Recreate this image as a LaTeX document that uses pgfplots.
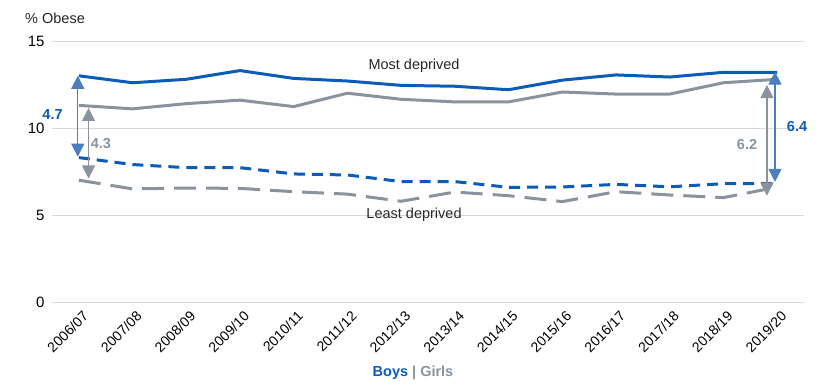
\documentclass[border=0pt]{standalone}
\usepackage{fontspec}
\setmainfont{Liberation Sans}
\usepackage{graphicx}
\usepackage{pgfplots}
\pgfplotsset{compat=1.18}
\usetikzlibrary{arrows.meta}
\definecolor{boys}{HTML}{0A5CB8}
\definecolor{girls}{HTML}{8A939D}
\definecolor{boysarrow}{HTML}{4A7EBF}
\definecolor{gridc}{HTML}{D9D9D9}
\begin{document}
\begin{tikzpicture}[font=\fontsize{14.5}{17}\selectfont]
\useasboundingbox (0,0) rectangle (827pt,384pt);
\begin{axis}[
  at={(52pt,82pt)}, anchor=south west, scale only axis,
  width=752pt, height=261pt,
  xmin=-0.5, xmax=13.5, ymin=0, ymax=15,
  axis line style={draw=none},
  major tick length=0pt,
  ymajorgrids, grid style={gridc, line width=1pt},
  ytick={0,5,10,15},
  xtick={0,...,13},
  xticklabels={2006/07,2007/08,2008/09,2009/10,2010/11,2011/12,2012/13,2013/14,2014/15,2015/16,2016/17,2017/18,2018/19,2019/20},
  x tick label style={yshift=-8pt, xshift=3pt, rotate=45, anchor=north east, font=\fontsize{14}{16}\selectfont, inner sep=0pt},
  y tick label style={font=\fontsize{15}{17}\selectfont, xshift=-4pt},
  /pgf/number format/assume math mode=true,
  clip=false,
]
% Boys most deprived
\addplot[boys, line width=3pt, line join=round] coordinates {
(0,13.0) (1,12.6) (2,12.8) (3,13.3) (4,12.85) (5,12.7) (6,12.45) (7,12.4) (8,12.2) (9,12.75) (10,13.05) (11,12.93) (12,13.2) (13,13.2)};
% Girls most deprived
\addplot[girls, line width=3pt, line join=round] coordinates {
(0,11.3) (1,11.1) (2,11.4) (3,11.6) (4,11.23) (5,12.0) (6,11.65) (7,11.5) (8,11.5) (9,12.07) (10,11.95) (11,11.95) (12,12.6) (13,12.8)};
% Boys least deprived
\addplot[boys, line width=3pt, dash pattern=on 11pt off 7pt] coordinates {
(0,8.3) (1,7.9) (2,7.72) (3,7.72) (4,7.36) (5,7.3) (6,6.92) (7,6.92) (8,6.59) (9,6.61) (10,6.76) (11,6.62) (12,6.8) (13,6.8)};
% Girls least deprived
\addplot[girls, line width=3pt, dash pattern=on 22pt off 10pt] coordinates {
(0,7.0) (1,6.5) (2,6.55) (3,6.53) (4,6.34) (5,6.2) (6,5.79) (7,6.32) (8,6.11) (9,5.77) (10,6.34) (11,6.15) (12,6.0) (13,6.6)};
% arrows
\draw[boysarrow, line width=1.2pt, {Triangle[width=13pt,length=13pt]}-{Triangle[width=13pt,length=13pt]}] (axis cs:-0.02,13.0) -- (axis cs:-0.02,8.35);
\draw[girls, line width=1.2pt, {Triangle[width=13pt,length=13pt]}-{Triangle[width=13pt,length=13pt]}] (axis cs:0.18,11.15) -- (axis cs:0.18,7.1);
\draw[girls, line width=1.2pt, {Triangle[width=13pt,length=13pt]}-{Triangle[width=13pt,length=13pt]}] (axis cs:12.81,12.47) -- (axis cs:12.81,6.11);
\draw[boysarrow, line width=1.2pt, {Triangle[width=13pt,length=13pt]}-{Triangle[width=13pt,length=13pt]}] (axis cs:12.96,13.24) -- (axis cs:12.96,6.9);
\node[boys, font=\fontsize{14.5}{17}\selectfont\bfseries] at (axis cs:-0.49,10.75) {4.7};
\node[girls, font=\fontsize{14.5}{17}\selectfont\bfseries] at (axis cs:0.41,9.08) {4.3};
\node[girls, font=\fontsize{14.5}{17}\selectfont\bfseries] at (axis cs:12.44,9.08) {6.2};
\node[boys, font=\fontsize{14.5}{17}\selectfont\bfseries] at (axis cs:13.37,10.07) {6.4};
\node[black!85] at (axis cs:6.24,13.6) {Most deprived};
\node[black!85] at (axis cs:6.24,5.0) {Least deprived};
\end{axis}
\node[anchor=west, inner sep=0pt, black!85] at (25pt,366pt) {\% Obese};
\node at (413pt,11.5pt) {\bfseries\textcolor{boys}{Boys} \textcolor{girls}{| Girls}};
\end{tikzpicture}
\end{document}
